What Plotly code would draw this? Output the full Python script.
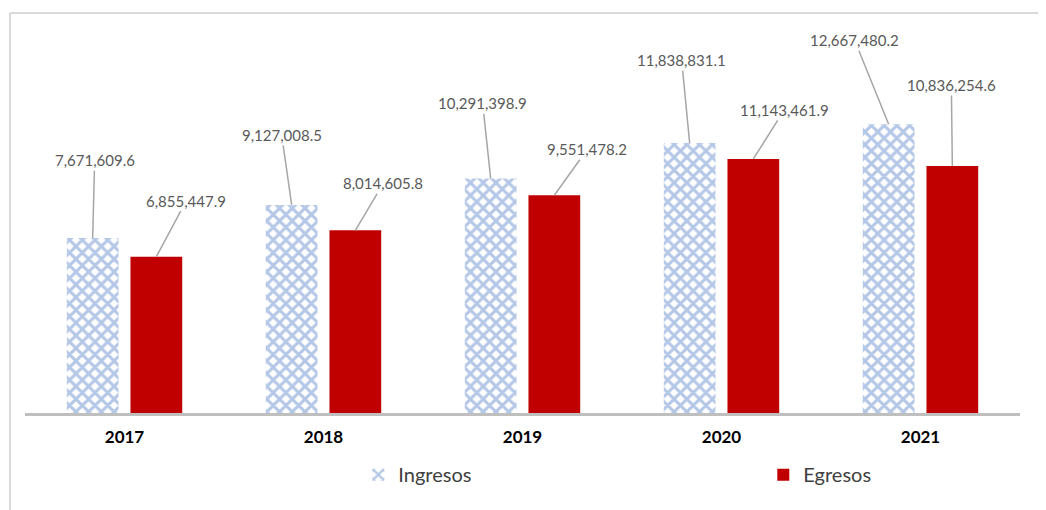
import plotly.graph_objects as go

years = ["2017", "2018", "2019", "2020", "2021"]
ingresos = [7671609.6, 9127008.5, 10291398.9, 11838831.1, 12667480.2]
egresos = [6855447.9, 8014605.8, 9551478.2, 11143461.9, 10836254.6]

# label offsets (pixels) for leader-lined data labels
ing_off = [(2, -78), (-10, -70), (-8, -75), (-8, -83), (-34, -84)]
eg_off = [(30, -56), (28, -47), (33, -46), (31, -49), (-1, -81)]

FONT = "Lato, 'Open Sans', sans-serif"
idx = list(range(len(years)))
BW = 0.26

fig = go.Figure()
fig.add_trace(go.Bar(
    x=idx, y=ingresos, name="Ingresos", width=BW, offset=-0.29, legend="legend",
    marker=dict(color="#B4C7E7", line=dict(width=0),
                pattern=dict(shape="x", fgcolor="#B4C7E7", bgcolor="white",
                             size=9, solidity=0.55, fillmode="replace")),
))
fig.add_trace(go.Bar(
    x=idx, y=egresos, name="Egresos", width=BW, offset=0.03, legend="legend2",
    marker=dict(color="#C00000", line=dict(width=0)),
))

def fmt(v):
    return f"{v:,.1f}"

anns = []
for i in idx:
    for vals, offs, dx in ((ingresos, ing_off, -0.29 + BW / 2), (egresos, eg_off, 0.03 + BW / 2)):
        ax, ay = offs[i]
        anns.append(dict(
            x=i + dx, y=vals[i], xref="x", yref="y", text=fmt(vals[i]),
            showarrow=True, arrowhead=0, arrowwidth=1.5, arrowcolor="#A6A6A6",
            ax=ax, ay=ay, standoff=0,
            font=dict(family=FONT, size=15, color="#595959"),
        ))

leg_font = dict(family=FONT, size=20, color="#404040")
fig.update_layout(
    width=1046, height=510,
    margin=dict(l=17, r=34, t=22, b=105, autoexpand=False),
    paper_bgcolor="white", plot_bgcolor="white",
    barmode="overlay",
    showlegend=True,
    legend=dict(orientation="h", x=0.335, xanchor="left", y=-0.11, yanchor="top",
                font=leg_font, bgcolor="rgba(0,0,0,0)"),
    legend2=dict(orientation="h", x=0.742, xanchor="left", y=-0.11, yanchor="top",
                 font=leg_font, bgcolor="rgba(0,0,0,0)"),
    xaxis=dict(tickmode="array", tickvals=idx, ticktext=years, range=[-0.5, 4.5],
               showline=True, linecolor="#BFBFBF", linewidth=2.5, showgrid=False,
               zeroline=False, ticks="outside", ticklen=7, tickcolor="rgba(0,0,0,0)",
               tickfont=dict(family=FONT, size=17, color="black", weight="bold")),
    yaxis=dict(range=[0, 16.8e6], visible=False, showgrid=False, zeroline=False),
    annotations=anns,
    shapes=[
        dict(type="line", xref="paper", yref="paper", x0=-15 / 995, x1=1.05, y0=400 / 383, y1=400 / 383,
             line=dict(color="#D9D9D9", width=2)),
        dict(type="line", xref="paper", yref="paper", x0=-15 / 995, x1=-15 / 995, y0=400 / 383, y1=-0.3,
             line=dict(color="#D9D9D9", width=2)),
    ],
)

fig.write_html("out.html")
